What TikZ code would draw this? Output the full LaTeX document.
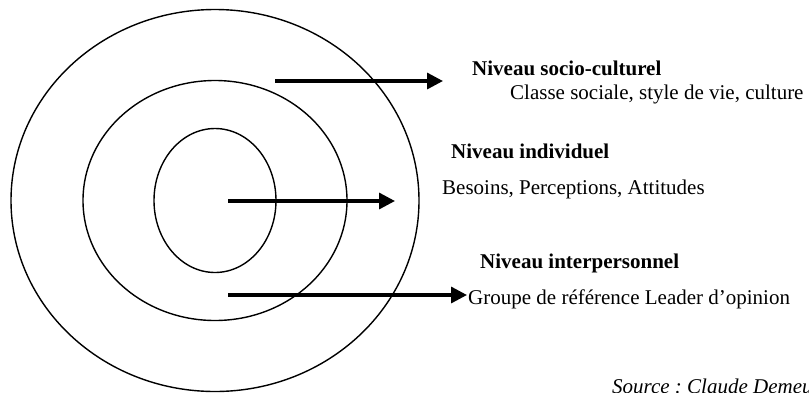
\documentclass[tikz,border=0pt]{standalone}
\usepackage{fontspec}
\setmainfont{Liberation Serif}
\usetikzlibrary{arrows.meta}
\frenchspacing
\begin{document}
\begin{tikzpicture}[x=1pt,y=-1pt,
  ring/.style={line width=1.4pt},
  flow/.style={line width=3.3pt,-{Triangle[length=16pt,width=16pt]}},
  heading/.style={anchor=base west,inner sep=0pt,font=\fontsize{21}{25}\selectfont\bfseries},
  body/.style={anchor=base west,inner sep=0pt,font=\fontsize{21}{25}\selectfont},
  credit/.style={anchor=base west,inner sep=0pt,font=\fontsize{21}{25}\selectfont\itshape},
]
\useasboundingbox (0,0) rectangle (809,392);
\clip (0,0) rectangle (809,392);

% concentric levels
\coordinate (centre) at (215,200.5);
\draw[ring] (centre) ellipse [x radius=204pt, y radius=191pt];
\draw[ring] (centre) ellipse [x radius=132pt, y radius=120pt];
\draw[ring] (centre) ellipse [x radius=61pt, y radius=72pt];

% labels
\node[heading] (socioT) at (472,75) {Niveau socio-culturel};
\node[body] (socioB) at (510,99) {Classe sociale, style de vie, culture};
\node[heading] (indivT) at (451,158) {Niveau individuel};
\node[body] (indivB) at (442,194) {Besoins, Perceptions, Attitudes};
\node[heading] (interT) at (480,268) {Niveau interpersonnel};
\node[body] (interB) at (468,304) {Groupe de référence Leader d’opinion};
\node[credit] (source) at (612,393) {Source : Claude Demeure};

% arrows
\coordinate (s1) at (275,81);  \coordinate (e1) at (443,81);
\coordinate (s2) at (228,201); \coordinate (e2) at (395,201);
\coordinate (s3) at (228,295); \coordinate (e3) at (467,295);
\draw[flow] (s1) -- (e1);
\draw[flow] (s2) -- (e2);
\draw[flow] (s3) -- (e3);
\end{tikzpicture}
\end{document}
